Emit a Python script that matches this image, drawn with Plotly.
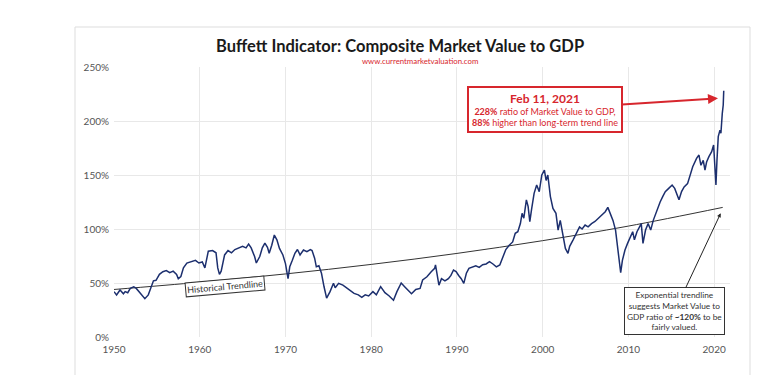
import plotly.graph_objects as go

# ---- data ----
years = [
    1950.0, 1950.3, 1950.7, 1951.1, 1951.3, 1951.6, 1951.9, 1952.3, 1952.6, 1953.0,
    1953.4, 1953.6, 1954.0, 1954.4, 1954.6, 1954.9, 1955.3, 1955.7, 1956.1, 1956.5,
    1956.9, 1957.3, 1957.5, 1957.8, 1958.1, 1958.5, 1959.0, 1959.5, 1959.9, 1960.3,
    1960.6, 1960.8, 1961.0, 1961.5, 1961.9, 1962.1, 1962.3, 1962.5, 1962.9, 1963.3,
    1963.7, 1964.1, 1964.6, 1965.0, 1965.4, 1965.7, 1966.0, 1966.4, 1966.6, 1967.0,
    1967.3, 1967.6, 1967.9, 1968.1, 1968.4, 1968.7, 1969.0, 1969.3, 1969.7, 1970.0,
    1970.3, 1970.5, 1970.8, 1971.1, 1971.4, 1971.7, 1972.1, 1972.5, 1972.9, 1973.1,
    1973.4, 1973.6, 1973.9, 1974.2, 1974.5, 1974.8, 1975.2, 1975.6, 1975.8, 1976.2,
    1976.7, 1977.1, 1977.5, 1978.0, 1978.5, 1978.9, 1979.3, 1979.7, 1980.2, 1980.6,
    1981.1, 1981.6, 1982.1, 1982.6, 1983.0, 1983.5, 1983.9, 1984.4, 1984.7, 1985.2,
    1985.7, 1986.0, 1986.5, 1987.0, 1987.4, 1987.5, 1987.65, 1987.9, 1988.2, 1988.6,
    1989.0, 1989.3, 1989.6, 1989.9, 1990.2, 1990.5, 1990.8, 1991.1, 1991.4, 1991.8,
    1992.2, 1992.6, 1993.0, 1993.4, 1993.8, 1994.2, 1994.6, 1995.0, 1995.3, 1995.7,
    1996.1, 1996.5, 1996.8, 1997.1, 1997.4, 1997.6, 1997.8, 1998.1, 1998.3, 1998.5,
    1998.7, 1999.0, 1999.3, 1999.6, 1999.9, 2000.2, 2000.4, 2000.6, 2000.9, 2001.2,
    2001.55, 2001.8, 2002.05, 2002.35, 2002.65, 2002.95, 2003.15, 2003.55, 2003.85, 2004.3,
    2004.6, 2004.95, 2005.3, 2005.7, 2006.1, 2006.5, 2006.9, 2007.3, 2007.6, 2007.9,
    2008.2, 2008.5, 2008.7, 2008.9, 2009.1, 2009.3, 2009.6, 2009.9, 2010.2, 2010.5,
    2010.7, 2011.0, 2011.3, 2011.5, 2011.7, 2012.0, 2012.3, 2012.6, 2012.9, 2013.3,
    2013.7, 2014.0, 2014.3, 2014.7, 2015.1, 2015.4, 2015.7, 2015.9, 2016.2, 2016.5,
    2016.9, 2017.2, 2017.5, 2017.95, 2018.23, 2018.46, 2018.73, 2018.93, 2019.12, 2019.39,
    2019.71, 2019.94, 2020.09, 2020.21, 2020.33, 2020.48, 2020.68, 2020.79, 2020.95, 2021.06,
    2021.12,
]
ratio_pct = [
    42, 39, 43.5, 40, 42, 41, 45, 46.5, 45, 41,
    37, 35.5, 39, 46.5, 52, 52.5, 58, 60.5, 61.5, 59.5,
    61, 58, 54, 56, 64, 68.5, 69.5, 71, 68.5, 69.5,
    64, 73, 79.5, 80, 78, 64, 58, 61, 76, 80,
    78, 81, 82.5, 84, 82.5, 86, 82.5, 74.5, 68.5, 74.5,
    82.5, 87, 83, 77.5, 85, 94.4, 90, 82, 76, 68,
    54, 65, 71, 77.5, 81, 76, 80.5, 79, 81, 80,
    73, 65, 66, 59, 46.5, 36, 42, 49.7, 45.6, 49.7,
    48, 45.5, 43.5, 40.4, 39, 36.7, 39, 38, 42, 39,
    46.6, 41, 38, 34, 42, 50, 46.6, 42, 40, 44,
    45, 52.8, 55.8, 60.5, 63.6, 66.7, 59, 48, 54, 52,
    54, 57, 62, 60.5, 57, 54, 49.7, 59, 63.6, 64.5,
    66, 64.5, 67, 67.6, 69.7, 67.6, 65, 66.7, 72.8, 81,
    85, 88, 96, 97.5, 105, 114.5, 110, 127, 121, 106.8,
    118, 133, 140.7, 134.6, 150, 154.6, 145, 150, 130, 119,
    114.5, 99, 108, 94.4, 82, 77.5, 84, 90, 95, 102,
    100, 103.7, 102, 105, 107, 110, 113, 116, 120, 114.5,
    108, 99, 86.7, 71, 59.5, 71, 80.5, 86.7, 92.6, 97.5,
    90, 97.5, 102, 105, 86.7, 99, 105, 99, 108, 117.6,
    125, 130, 134.5, 137.6, 140.7, 137.6, 131.5, 127, 134.6, 139,
    142, 150, 157.7, 165.4, 168.5, 159, 163.6, 154.6, 162, 167,
    171.6, 177.8, 157.7, 140.7, 163.6, 185.5, 191.6, 188.6, 207, 214.8,
    228,
]

trend_years = [1950, 1960, 1970, 1980, 1990, 2000, 2010, 2021]
trend_pct = [44, 50.7, 58.4, 67.2, 77.4, 89.2, 102.7, 120]

x_ticks = [1950, 1960, 1970, 1980, 1990, 2000, 2010, 2020]
y_ticks = [0, 50, 100, 150, 200, 250]
y_tick_labels = ["0%", "50%", "100%", "150%", "200%", "250%"]

FONT = "Lato"
NAVY = "#1c2f6e"
RED = "#d7262d"

fig = go.Figure()
fig.add_trace(go.Scatter(
    x=trend_years, y=trend_pct, mode="lines",
    line=dict(color="#333333", width=1, shape="spline"),
    hoverinfo="skip", showlegend=False))
fig.add_trace(go.Scatter(
    x=years, y=ratio_pct, mode="lines",
    line=dict(color=NAVY, width=1.5),
    showlegend=False))

# page px -> paper helpers (plot area on the page: x 114..730, y 67..337)
def px(xp):
    return (xp - 114) / 616.0

def py(yp):
    return (337 - yp) / 270.0

annotations = [
    dict(text="<b>Buffett Indicator: Composite Market Value to GDP</b>",
         xref="paper", yref="paper", x=px(400), y=py(46), showarrow=False,
         xanchor="center", yanchor="middle",
         font=dict(family=FONT, size=16.5, color="#1a1a1a")),
    dict(text="www.currentmarketvaluation.com",
         xref="paper", yref="paper", x=px(420), y=py(61), showarrow=False,
         xanchor="center", yanchor="middle",
         font=dict(family=FONT, size=7.8, color=RED)),
    dict(text="<span style='font-size:12px'><b>Feb 11, 2021</b></span><br>"
              "<b>228%</b> ratio of Market Value to GDP,<br>"
              "<b>88%</b> higher than long-term trend line",
         x=2020.45, y=221, xref="x", yref="y",
         ax=-173, ay=11, axref="pixel", ayref="pixel",
         showarrow=True, arrowhead=2, arrowsize=1, arrowwidth=2, arrowcolor=RED,
         align="center", bordercolor=RED, borderwidth=2, borderpad=3,
         bgcolor="white", font=dict(family=FONT, size=9, color=RED)),
    dict(text="Exponential trendline<br>suggests Market Value to<br>"
              "GDP ratio of <b>~120%</b> to be<br>fairly valued.",
         x=2020.76, y=114.5, xref="x", yref="y",
         ax=-46, ay=98,
         showarrow=True, arrowhead=2, arrowsize=0.8, arrowwidth=1, arrowcolor="#222222",
         align="center", bordercolor="#333333", borderwidth=1, borderpad=2,
         bgcolor="white", font=dict(family=FONT, size=8.3, color="#333333")),
    dict(text="Historical Trendline",
         x=1962.9, y=47.2, xref="x", yref="y", showarrow=False,
         textangle=-5, bordercolor="#333333", borderwidth=1, borderpad=1,
         bgcolor="white", font=dict(family=FONT, size=9, color="#333333")),
]

frame_col = "#dddddd"
shapes = [
    dict(type="line", xref="paper", yref="paper", x0=px(75), x1=px(750),
         y0=py(27), y1=py(27), line=dict(color=frame_col, width=1)),
    dict(type="line", xref="paper", yref="paper", x0=px(75), x1=px(75),
         y0=py(27), y1=py(380), line=dict(color=frame_col, width=1)),
    dict(type="line", xref="paper", yref="paper", x0=px(750), x1=px(750),
         y0=py(27), y1=py(380), line=dict(color=frame_col, width=1)),
]

# the page body adds an 8px offset, so margins are set 8px less on left/top
fig.update_layout(
    width=764, height=375,
    margin=dict(l=106, r=42, t=59, b=46),
    paper_bgcolor="white", plot_bgcolor="white",
    annotations=annotations, shapes=shapes,
    font=dict(family=FONT),
    xaxis=dict(range=[1950, 2021.85], tickvals=x_ticks, showgrid=True,
               gridcolor="#e8e8e8", gridwidth=1, zeroline=False, showline=False,
               ticks="", ticklabelstandoff=5,
               tickfont=dict(family=FONT, size=10, color="#555555")),
    yaxis=dict(range=[0, 250], tickvals=y_ticks, ticktext=y_tick_labels,
               showgrid=True, gridcolor="#e8e8e8", gridwidth=1, zeroline=False,
               showline=False, ticks="", ticklabelstandoff=4,
               tickfont=dict(family=FONT, size=10, color="#555555")),
)

fig.write_html("out.html")
